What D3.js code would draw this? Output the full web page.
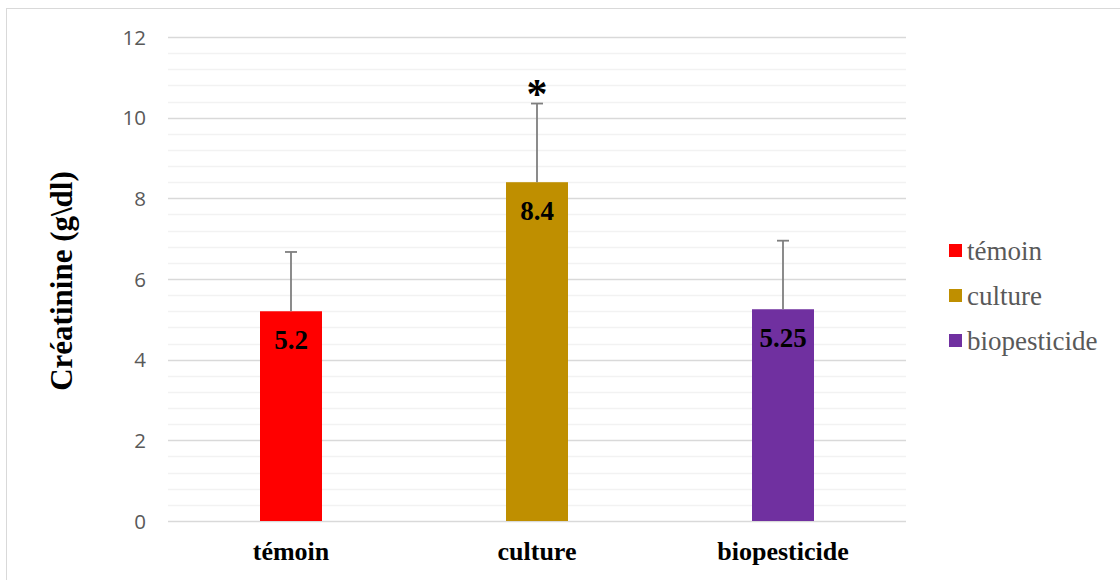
<!DOCTYPE html>
<html><head><meta charset="utf-8">
<script src="https://cdn.jsdelivr.net/npm/d3@7"></script>
<style>body{margin:0;background:#fff}</style>
</head><body>
<script>
const categories = ["témoin", "culture", "biopesticide"];
const values = [5.2, 8.4, 5.25];
const errors = [1.47, 1.95, 1.7];
const labels = ["5.2", "8.4", "5.25"];
const colors = ["#ff0000", "#bf8f00", "#7030a0"];
const significance = ["", "*", ""];
const yTicks = [0, 2, 4, 6, 8, 10, 12];
const yTitle = "Créatinine (g\\dl)";

const W = 1120, H = 580;
const svg = d3.select("body").append("svg").attr("width", W).attr("height", H);
svg.append("rect").attr("x", 6.5).attr("y", 8.5).attr("width", W).attr("height", H)
  .attr("fill", "#fff").attr("stroke", "#d9d9d9");

const x = d3.scaleBand().domain(categories).range([168, 906]).paddingInner(0).paddingOuter(0);
const y = d3.scaleLinear().domain([0, 12]).range([521, 37]);

// minor grid
const minor = d3.range(0, 12.001, 0.4).filter(v => Math.abs(v / 2 - Math.round(v / 2)) > 1e-6);
svg.append("g").selectAll("line").data(minor).join("line")
  .attr("x1", 168).attr("x2", 906)
  .attr("y1", d => Math.round(y(d)) + 0.5).attr("y2", d => Math.round(y(d)) + 0.5)
  .attr("stroke", "#f2f2f2").attr("stroke-width", 1.3);
// major grid
svg.append("g").selectAll("line").data(yTicks).join("line")
  .attr("x1", 168).attr("x2", 906)
  .attr("y1", d => Math.round(y(d)) + 0.5).attr("y2", d => Math.round(y(d)) + 0.5)
  .attr("stroke", "#d9d9d9").attr("stroke-width", 1.3);

// y axis labels
const yAxis = d3.axisLeft(y).tickValues(yTicks).tickSize(0).tickPadding(0);
const ga = svg.append("g").attr("transform", "translate(146,0)").call(yAxis);
ga.select(".domain").remove();
ga.selectAll("text").attr("font-family", "Open Sans, Liberation Sans, sans-serif")
  .attr("font-size", 20.5).attr("fill", "#595959").attr("dy", "0.35em");

const bw = 62;
const data = categories.map((c, i) => ({c, v: values[i], e: errors[i], l: labels[i], col: colors[i], s: significance[i]}));
const cx = d => x(d.c) + x.bandwidth() / 2;

svg.append("g").selectAll("rect").data(data).join("rect")
  .attr("x", d => cx(d) - bw / 2).attr("width", bw)
  .attr("y", d => y(d.v)).attr("height", d => y(0) - y(d.v))
  .attr("fill", d => d.col);

// error bars
const eg = svg.append("g").attr("stroke", "#7f7f7f").attr("stroke-width", 1.8);
eg.selectAll("line.v").data(data).join("line").attr("class", "v")
  .attr("x1", cx).attr("x2", cx).attr("y1", d => y(d.v)).attr("y2", d => y(d.v + d.e));
eg.selectAll("line.h").data(data).join("line").attr("class", "h")
  .attr("x1", d => cx(d) - 6).attr("x2", d => cx(d) + 6)
  .attr("y1", d => y(d.v + d.e)).attr("y2", d => y(d.v + d.e));

// value labels
svg.append("g").selectAll("text").data(data).join("text")
  .attr("x", cx).attr("y", d => y(d.v) + 38)
  .attr("text-anchor", "middle")
  .attr("font-family", "Liberation Serif, Times New Roman, serif")
  .attr("font-weight", "bold").attr("font-size", 27).attr("fill", "#000")
  .text(d => d.l);

// significance
svg.append("g").selectAll("text").data(data.filter(d => d.s)).join("text")
  .attr("x", cx).attr("y", d => y(d.v + d.e) + 4)
  .attr("text-anchor", "middle")
  .attr("font-family", "Liberation Serif, Times New Roman, serif")
  .attr("font-weight", "bold").attr("font-size", 42).attr("fill", "#000")
  .text(d => d.s);

// x labels
svg.append("g").selectAll("text").data(categories).join("text")
  .attr("x", d => x(d) + x.bandwidth() / 2).attr("y", 560)
  .attr("text-anchor", "middle")
  .attr("font-family", "Liberation Serif, Times New Roman, serif")
  .attr("font-weight", "bold").attr("font-size", 26).attr("fill", "#000")
  .text(d => d);

// y title
svg.append("text").attr("transform", "translate(72,281) rotate(-90)")
  .attr("text-anchor", "middle")
  .attr("font-family", "Liberation Serif, Times New Roman, serif")
  .attr("font-weight", "bold").attr("font-size", 31).attr("fill", "#000")
  .text(yTitle);

// legend
const lg = svg.append("g").selectAll("g").data(data).join("g")
  .attr("transform", (d, i) => `translate(949,${251 + i * 45})`);
lg.append("rect").attr("x", 0).attr("y", -7).attr("width", 13).attr("height", 13).attr("fill", d => d.col);
lg.append("text").attr("x", 18).attr("y", 0).attr("dy", "0.32em")
  .attr("font-family", "Liberation Serif, Times New Roman, serif")
  .attr("font-size", 27).attr("fill", "#595959")
  .text(d => d.c);
</script>
</body></html>
